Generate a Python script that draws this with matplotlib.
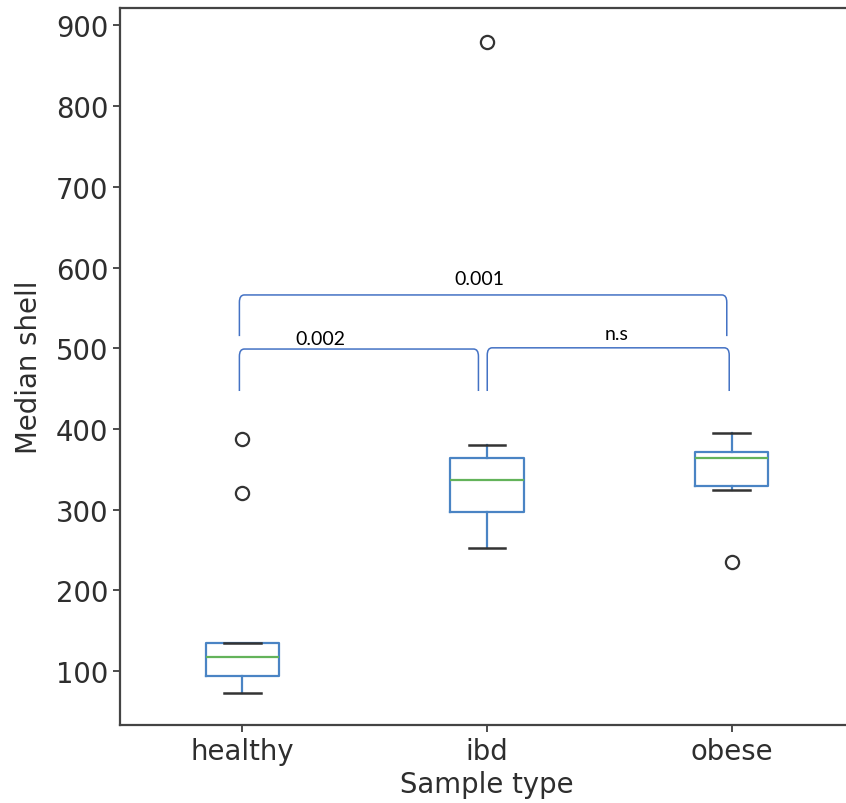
import matplotlib
matplotlib.use("Agg")
import matplotlib.pyplot as plt
from matplotlib.path import Path
from matplotlib.patches import PathPatch

# ---- data ----
groups = ["healthy", "ibd", "obese"]
q1 = [93.6, 296.7, 329.4]
med = [117.1, 336.4, 364.1]
q3 = [134.4, 364.1, 371.5]
whislo = [72.9, 252.5, 324.4]
whishi = [134.4, 380.6, 395.0]
fliers = [[387.6, 320.7], [879.9], [235.2]]

# significance comparisons: (group a, group b, label)
comparisons = [("healthy", "ibd", "0.002"),
               ("ibd", "obese", "n.s"),
               ("healthy", "obese", "0.001")]

BOX_C = "#4a84c4"
MED_C = "#63b35a"
CAP_C = "#333333"
BR_C = "#4472C4"
TXT_C = "#2e2e2e"

fig = plt.figure(figsize=(8.46, 8.04), dpi=100)
ax = fig.add_axes([120 / 846, 1 - 725.7 / 804, 734 / 846, (725.7 - 9) / 804])

stats = []
for i, g in enumerate(groups):
    stats.append(dict(label=g, q1=q1[i], med=med[i], q3=q3[i],
                      whislo=whislo[i], whishi=whishi[i], fliers=fliers[i]))

ax.bxp(stats, positions=[1, 2, 3], widths=0.3,
       boxprops=dict(color=BOX_C, linewidth=1.6),
       whiskerprops=dict(color=BOX_C, linewidth=1.6),
       medianprops=dict(color=MED_C, linewidth=1.6),
       capprops=dict(color=CAP_C, linewidth=1.8),
       flierprops=dict(marker="o", markerfacecolor="none",
                       markeredgecolor=CAP_C, markersize=9.5,
                       markeredgewidth=1.6))

ax.set_xlim(0.5, 3.5)
ax.set_ylim(33.6, 921.5)
ax.set_yticks([100, 200, 300, 400, 500, 600, 700, 800, 900])
ax.set_xticks([1, 2, 3])
ax.set_xticklabels(groups)
ax.tick_params(labelsize=19.8, colors=TXT_C, length=5, width=1.2)
ax.set_xlabel("Sample type", fontsize=19.8, color=TXT_C, labelpad=4)
ax.set_ylabel("Median shell", fontsize=19.8, color=TXT_C, labelpad=9)
for s in ax.spines.values():
    s.set_color("#444444")
    s.set_linewidth(1.6)


def bracket(x0, x1, ytop, ybot, label, tx, ty):
    rx, ry = 0.02, 9.0
    verts = [(x0, ybot), (x0, ytop - ry), (x0, ytop), (x0 + rx, ytop),
             (x1 - rx, ytop), (x1, ytop), (x1, ytop - ry), (x1, ybot)]
    codes = [Path.MOVETO, Path.LINETO, Path.CURVE3, Path.CURVE3,
             Path.LINETO, Path.CURVE3, Path.CURVE3, Path.LINETO]
    ax.add_patch(PathPatch(Path(verts, codes), fill=False,
                           edgecolor=BR_C, linewidth=1.1, clip_on=False))
    ax.text(tx, ty, label, ha="center", va="center", fontsize=14,
            family=["Lato", "DejaVu Sans"], color="black")


pos = {g: i + 1 for i, g in enumerate(groups)}
# bracket geometry per comparison (x offsets, top, bottom, text position)
bracket(pos["healthy"] - 0.012, pos["ibd"] - 0.035, 499, 447,
        comparisons[0][2], 1.32, 512)
bracket(pos["ibd"] + 0.001, pos["obese"] - 0.01, 500.5, 447,
        comparisons[1][2], 2.53, 518)
bracket(pos["healthy"] - 0.012, pos["obese"] - 0.02, 566, 515,
        comparisons[2][2], 1.97, 587)

fig.savefig("out.png", dpi=100)
